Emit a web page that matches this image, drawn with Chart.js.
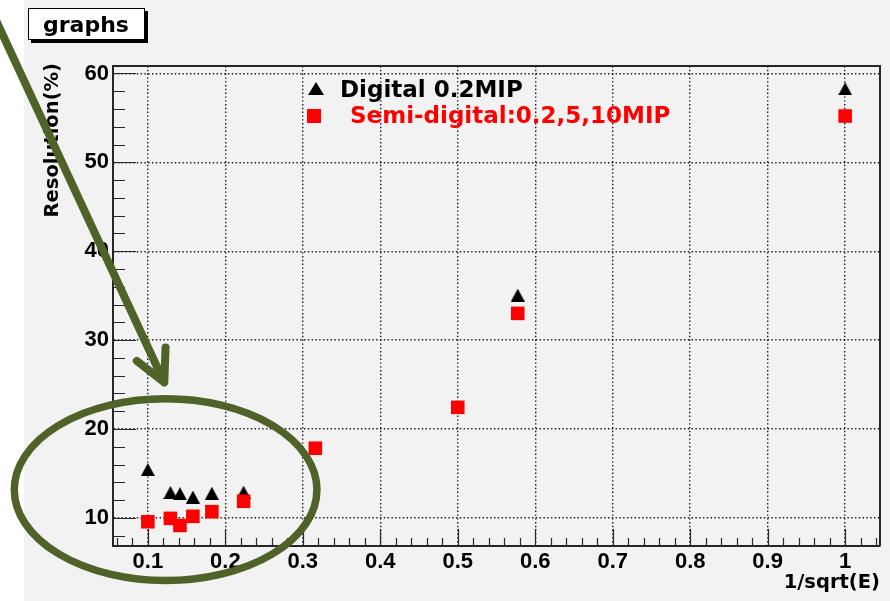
<!DOCTYPE html>
<html>
<head>
<meta charset="utf-8">
<script src="https://cdn.jsdelivr.net/npm/chart.js@4.4.1/dist/chart.umd.min.js"></script>
<style>
  html, body { margin: 0; padding: 0; background: #ffffff; }
  canvas { display: block; }
</style>
</head>
<body>
<canvas id="c" width="890" height="601"></canvas>
<script>
// Energy resolution versus 1/sqrt(E)
const chartTitle = 'graphs';
const xTitle = '1/sqrt(E)';
const yTitle = 'Resolution(%)';
const seriesLabels = ['Digital 0.2MIP', 'Semi-digital:0.2,5,10MIP'];

const digitalX = [0.1, 0.1291, 0.1414, 0.1581, 0.1826, 0.2236, 0.5774, 1.0];
const digitalY = [15.44, 12.86, 12.72, 12.35, 12.77, 12.9, 35.07, 58.28];

const semiX = [0.1, 0.1291, 0.1414, 0.1581, 0.1826, 0.2236, 0.3162, 0.5, 0.5774, 1.0];
const semiY = [9.57, 9.95, 9.15, 10.18, 10.70, 11.87, 17.84, 22.44, 33.01, 55.21];

const xTickValues = [0.1, 0.2, 0.3, 0.4, 0.5, 0.6, 0.7, 0.8, 0.9, 1.0];
const xTickLabels = ['0.1', '0.2', '0.3', '0.4', '0.5', '0.6', '0.7', '0.8', '0.9', '1'];
const yTickValues = [10, 20, 30, 40, 50, 60];
const yTickLabels = ['10', '20', '30', '40', '50', '60'];

const FRAME = '#262626';
const OLIVE = '#4f6228';
const BOLD = '"DejaVu Sans", sans-serif';
const TICKFONT = '"Liberation Sans", Arial, sans-serif';

// filled triangle marker, centred on its bounding box
function triangleMarker(w, h) {
  const cv = document.createElement('canvas');
  cv.width = w; cv.height = h;
  const g = cv.getContext('2d');
  g.fillStyle = '#000';
  g.beginPath();
  g.moveTo(w / 2, 0);
  g.lineTo(w, h);
  g.lineTo(0, h);
  g.closePath();
  g.fill();
  return cv;
}
const triPoint = triangleMarker(14, 13);
const triLegend = triangleMarker(16, 13);

const toPoints = (xs, ys) => xs.map((x, i) => ({ x: x, y: ys[i] }));

const decorations = {
  id: 'decorations',
  beforeDraw(chart) {
    const ctx = chart.ctx;
    ctx.save();
    ctx.fillStyle = '#f2f2f2';
    ctx.fillRect(24, 0, chart.width - 24, chart.height);
    ctx.restore();
  },
  beforeDatasetsDraw(chart) {
    const { ctx, chartArea: a, scales: { x, y } } = chart;
    ctx.save();
    ctx.strokeStyle = FRAME;
    ctx.lineWidth = 1.2;
    ctx.beginPath();
    // inward ticks on the x axis, secondary every 0.02
    for (let k = Math.ceil(x.min / 0.02 - 1e-6); k * 0.02 <= x.max + 1e-9; k++) {
      const v = k * 0.02;
      const px = Math.round(x.getPixelForValue(v)) + 0.5;
      const major = Math.abs(v * 10 - Math.round(v * 10)) < 1e-6;
      ctx.moveTo(px, a.bottom);
      ctx.lineTo(px, a.bottom - (major ? 17 : 8));
    }
    // inward ticks on the y axis, secondary every 2
    for (let k = Math.ceil(y.min / 2); k * 2 <= y.max; k++) {
      const v = k * 2;
      const py = Math.round(y.getPixelForValue(v)) + 0.5;
      ctx.moveTo(a.left, py);
      ctx.lineTo(a.left + (v % 10 === 0 ? 23 : 12), py);
    }
    ctx.stroke();
    // top and right sides of the frame
    ctx.lineWidth = 2;
    ctx.beginPath();
    ctx.moveTo(a.left, a.top);
    ctx.lineTo(a.right, a.top);
    ctx.lineTo(a.right, a.bottom);
    ctx.stroke();
    ctx.restore();
  },
  afterDraw(chart) {
    const { ctx, chartArea: a, scales: { x, y } } = chart;
    ctx.save();

    // title box with drop shadow
    ctx.fillStyle = '#000';
    ctx.fillRect(31, 11, 117, 32);
    ctx.fillStyle = '#fff';
    ctx.fillRect(28, 8, 117, 32);
    ctx.strokeStyle = '#000';
    ctx.lineWidth = 1;
    ctx.strokeRect(28.5, 8.5, 116, 31);
    ctx.fillStyle = '#000';
    ctx.font = 'bold 22px ' + BOLD;
    ctx.textAlign = 'left';
    ctx.textBaseline = 'alphabetic';
    ctx.fillText(chartTitle, 43, 32);

    // axis titles
    ctx.font = 'bold 19.5px ' + BOLD;
    ctx.textAlign = 'right';
    ctx.fillText(xTitle, a.right, 588);
    ctx.save();
    ctx.translate(58, 63);
    ctx.rotate(-Math.PI / 2);
    ctx.fillText(yTitle, 0, 0);
    ctx.restore();

    // legend
    const lx = a.left + 203;
    ctx.drawImage(triLegend, lx - 8, 82);
    ctx.fillStyle = '#ff0000';
    ctx.fillRect(lx - 9, 109, 14, 14);
    ctx.font = 'bold 23px ' + BOLD;
    ctx.textAlign = 'left';
    ctx.fillStyle = '#000';
    ctx.fillText(seriesLabels[0], a.left + 227, 97);
    ctx.fillStyle = '#ff0000';
    ctx.fillText(seriesLabels[1], a.left + 237, 123);

    // highlight ellipse around the high-energy points
    const cx = x.getPixelForValue(0.1229);
    const cy = y.getPixelForValue(13.18);
    const rx = x.getPixelForValue(0.1229 + 0.1953) - cx;
    const ry = cy - y.getPixelForValue(13.18 + 10.22);
    ctx.strokeStyle = OLIVE;
    ctx.lineWidth = 7.5;
    ctx.beginPath();
    ctx.ellipse(cx, cy, rx, ry, 0, 0, Math.PI * 2);
    ctx.stroke();

    // pointer arrow
    const tx = x.getPixelForValue(0.1212), ty = y.getPixelForValue(25.24);
    const sx = x.getPixelForValue(-0.1085), sy = y.getPixelForValue(68.3);
    const ang = Math.atan2(sy - ty, sx - tx);
    const head = 35, spread = 27 * Math.PI / 180;
    ctx.lineWidth = 8;
    ctx.lineCap = 'round';
    ctx.lineJoin = 'round';
    ctx.beginPath();
    ctx.moveTo(sx, sy);
    ctx.lineTo(tx, ty);
    ctx.moveTo(tx + head * Math.cos(ang - spread), ty + head * Math.sin(ang - spread));
    ctx.lineTo(tx, ty);
    ctx.lineTo(tx + head * Math.cos(ang + spread), ty + head * Math.sin(ang + spread));
    ctx.stroke();

    ctx.restore();
  }
};

const gridStyle = { color: '#1a1a1a', lineWidth: 1.4, drawTicks: false };
const borderStyle = { display: true, color: FRAME, width: 2, dash: [1.4, 2.4] };

new Chart(document.getElementById('c'), {
  type: 'scatter',
  data: {
    datasets: [
      {
        label: seriesLabels[1],
        data: toPoints(semiX, semiY),
        pointStyle: 'rect',
        pointRadius: 9.6,
        pointHoverRadius: 9.6,
        backgroundColor: '#ff0000',
        borderWidth: 0,
        order: 0
      },
      {
        label: seriesLabels[0],
        data: toPoints(digitalX, digitalY),
        pointStyle: triPoint,
        pointRadius: 7,
        backgroundColor: '#000000',
        borderWidth: 0,
        order: 1
      }
    ]
  },
  options: {
    responsive: false,
    animation: false,
    devicePixelRatio: 1,
    layout: { padding: { left: 0, right: 10, top: 66, bottom: 0 } },
    plugins: {
      legend: { display: false },
      tooltip: { enabled: false },
      title: { display: false }
    },
    events: [],
    scales: {
      x: {
        type: 'linear',
        min: 0.055,
        max: 1.045,
        afterFit(s) { s.height = 55; },
        afterBuildTicks(s) { s.ticks = xTickValues.map(v => ({ value: v })); },
        grid: gridStyle,
        border: borderStyle,
        ticks: {
          padding: 3,
          color: '#000',
          font: { family: TICKFONT, weight: 'bold', size: 22 },
          callback(v) { const i = xTickValues.findIndex(t => Math.abs(t - v) < 1e-9); return i >= 0 ? xTickLabels[i] : ''; },
          maxRotation: 0,
          autoSkip: false
        }
      },
      y: {
        type: 'linear',
        min: 6.84,
        max: 60.84,
        afterFit(s) { s.width = 113; },
        afterBuildTicks(s) { s.ticks = yTickValues.map(v => ({ value: v })); },
        grid: gridStyle,
        border: borderStyle,
        ticks: {
          padding: 4,
          color: '#000',
          font: { family: TICKFONT, weight: 'bold', size: 22 },
          callback(v) { const i = yTickValues.indexOf(v); return i >= 0 ? yTickLabels[i] : ''; },
          autoSkip: false
        }
      }
    }
  },
  plugins: [decorations]
});
</script>
</body>
</html>
